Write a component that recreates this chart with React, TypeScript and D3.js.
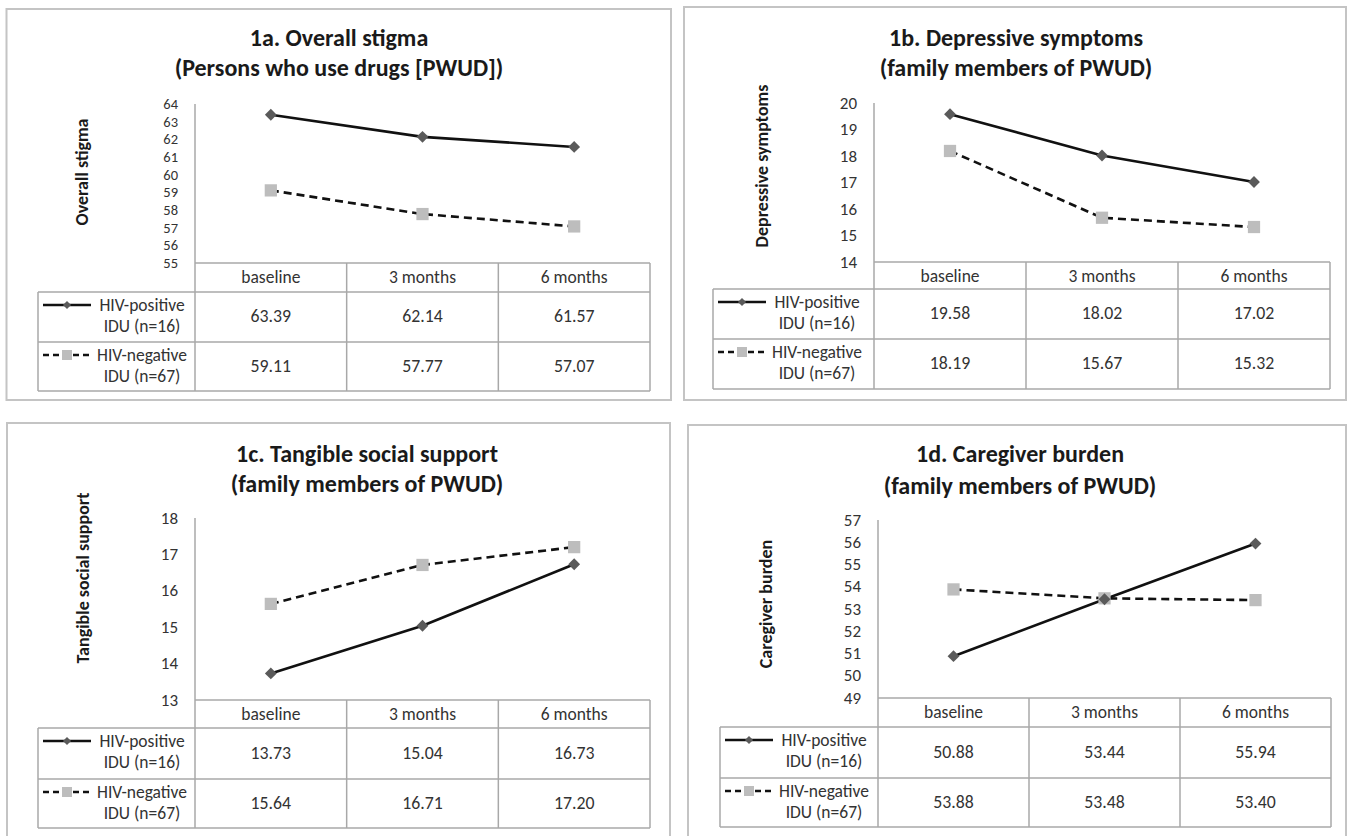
import React from 'react';
import { line, scaleBand, scaleLinear, symbol, symbolSquare, range } from 'd3';

// time points shared by all four panels
const timePoints = ['baseline', '3 months', '6 months'];

const posLegend = ['HIV-positive', 'IDU (n=16)'];
const negLegend = ['HIV-negative', 'IDU (n=67)'];

const titles = [
  ['1a. Overall stigma', '(Persons who use drugs [PWUD])'],
  ['1b. Depressive symptoms', '(family members of PWUD)'],
  ['1c. Tangible social support', '(family members of PWUD)'],
  ['1d. Caregiver burden', '(family members of PWUD)'],
];
const yLabels = ['Overall stigma', 'Depressive symptoms', 'Tangible social support', 'Caregiver burden'];

const hivPositive = [
  [63.39, 62.14, 61.57],
  [19.58, 18.02, 17.02],
  [13.73, 15.04, 16.73],
  [50.88, 53.44, 55.94],
];
const hivNegative = [
  [59.11, 57.77, 57.07],
  [18.19, 15.67, 15.32],
  [15.64, 16.71, 17.2],
  [53.88, 53.48, 53.4],
];
const yDomains = [
  [55, 64],
  [14, 20],
  [13, 18],
  [49, 57],
];

// where each panel sits on the page
const layouts = [
  { left: 6.5, top: 9, right: 671, bottom: 400, axisX: 195, tableRight: 650, legendLeft: 38, plotTop: 104, plotBottom: 263, headerBottom: 292, row1Bottom: 342, tableBottom: 391, titleX: 339, title1Y: 37, title2Y: 67, yLabelX: 82, yLabelY: 172, tickSize: 14.5 },
  { left: 684, top: 7, right: 1346, bottom: 400, axisX: 874, tableRight: 1330, legendLeft: 713, plotTop: 103, plotBottom: 262, headerBottom: 289, row1Bottom: 339, tableBottom: 389, titleX: 1016, title1Y: 37, title2Y: 67, yLabelX: 762, yLabelY: 166, tickSize: 17 },
  { left: 7, top: 423, right: 670, bottom: 870, axisX: 195, tableRight: 650, legendLeft: 38, plotTop: 518, plotBottom: 700, headerBottom: 728, row1Bottom: 779, tableBottom: 828, titleX: 367, title1Y: 453, title2Y: 483, yLabelX: 83, yLabelY: 578, tickSize: 17 },
  { left: 688, top: 425, right: 1346, bottom: 870, axisX: 878, tableRight: 1331, legendLeft: 720, plotTop: 520, plotBottom: 698, headerBottom: 727, row1Bottom: 778, tableBottom: 827, titleX: 1020, title1Y: 453, title2Y: 485, yLabelX: 766, yLabelY: 604, tickSize: 17 },
];

const font = 'Carlito, Calibri, Lato, sans-serif';
const gridColor = '#a8a8a8';
const textColor = '#333';
const diamondPath = symbol(symbolSquare, 70)()!;
const squarePath = symbol(symbolSquare, 150)()!;
const legendDiamond = symbol(symbolSquare, 34)()!;
const legendSquare = symbol(symbolSquare, 100)()!;

const Panel: React.FC<{ i: number }> = ({ i }) => {
  const L = layouts[i];
  const x = scaleBand<string>().domain(timePoints).range([L.axisX, L.tableRight]);
  const y = scaleLinear().domain(yDomains[i]).range([L.plotBottom, L.plotTop]);
  const cx = (d: string) => x(d)! + x.bandwidth() / 2;
  const path = line<number>().x((_, k) => cx(timePoints[k])).y((v) => y(v));
  const ticks = range(yDomains[i][0], yDomains[i][1] + 1);
  const rows = [
    { legend: posLegend, values: hivPositive[i], top: L.headerBottom, bottom: L.row1Bottom, dashed: false },
    { legend: negLegend, values: hivNegative[i], top: L.row1Bottom, bottom: L.tableBottom, dashed: true },
  ];
  const legendTextX = L.legendLeft + 104;

  return (
    <g>
      <rect x={L.left} y={L.top} width={L.right - L.left} height={L.bottom - L.top} fill="#fff" stroke="#c4c4c4" strokeWidth={2} />
      <text x={L.titleX} y={L.title1Y} textAnchor="middle" dominantBaseline="central" fontFamily={font} fontWeight="bold" fontSize={24} fill="#1a1a1a">{titles[i][0]}</text>
      <text x={L.titleX} y={L.title2Y} textAnchor="middle" dominantBaseline="central" fontFamily={font} fontWeight="bold" fontSize={24} fill="#1a1a1a">{titles[i][1]}</text>
      <text transform={`translate(${L.yLabelX},${L.yLabelY}) rotate(-90)`} textAnchor="middle" dominantBaseline="central" fontFamily={font} fontWeight="bold" fontSize={18} fill="#1a1a1a">{yLabels[i]}</text>

      {ticks.map((t) => (
        <text key={t} x={L.axisX - 17} y={y(t)} textAnchor="end" dominantBaseline="central" fontFamily={font} fontSize={L.tickSize} fill={textColor}>{t}</text>
      ))}

      {/* table grid */}
      <line x1={L.axisX} x2={L.axisX} y1={L.plotTop} y2={L.tableBottom} stroke={gridColor} strokeWidth={1.5} />
      <line x1={L.axisX} x2={L.tableRight} y1={L.plotBottom} y2={L.plotBottom} stroke={gridColor} strokeWidth={1.5} />
      {[L.headerBottom, L.row1Bottom, L.tableBottom].map((yy) => (
        <line key={yy} x1={L.legendLeft} x2={L.tableRight} y1={yy} y2={yy} stroke={gridColor} strokeWidth={1.5} />
      ))}
      <line x1={L.legendLeft} x2={L.legendLeft} y1={L.headerBottom} y2={L.tableBottom} stroke={gridColor} strokeWidth={1.5} />
      {timePoints.map((c) => (
        <line key={c} x1={x(c)! + x.bandwidth()} x2={x(c)! + x.bandwidth()} y1={L.plotBottom} y2={L.tableBottom} stroke={gridColor} strokeWidth={1.5} />
      ))}
      {timePoints.map((c) => (
        <text key={c} x={cx(c)} y={L.plotBottom + 14} textAnchor="middle" dominantBaseline="central" fontFamily={font} fontSize={17.5} fill={textColor}>{c}</text>
      ))}

      {rows.map((r, k) => (
        <g key={k}>
          {r.values.map((v, j) => (
            <text key={j} x={cx(timePoints[j])} y={(r.top + r.bottom) / 2 - 1} textAnchor="middle" dominantBaseline="central" fontFamily={font} fontSize={17.8} fill={textColor}>{v.toFixed(2)}</text>
          ))}
          <line x1={L.legendLeft + 5} x2={L.legendLeft + 53} y1={r.top + 13} y2={r.top + 13} stroke="#111" strokeWidth={2.5} strokeDasharray={r.dashed ? '6,4' : undefined} />
          <path d={r.dashed ? legendSquare : legendDiamond} transform={`translate(${L.legendLeft + 29},${r.top + 13}) rotate(${r.dashed ? 0 : 45})`} fill={r.dashed ? '#bdbdbd' : '#5a5a5a'} />
          <text x={legendTextX} y={r.top + 13} textAnchor="middle" dominantBaseline="central" fontFamily={font} fontSize={17.5} fill={textColor}>{r.legend[0]}</text>
          <text x={legendTextX} y={r.top + 34} textAnchor="middle" dominantBaseline="central" fontFamily={font} fontSize={17.5} fill={textColor}>{r.legend[1]}</text>
        </g>
      ))}

      {/* series */}
      <path d={path(hivNegative[i])!} fill="none" stroke="#111" strokeWidth={2.6} strokeDasharray="8,5" />
      <path d={path(hivPositive[i])!} fill="none" stroke="#111" strokeWidth={2.6} />
      {hivNegative[i].map((v, j) => (
        <path key={'n' + j} d={squarePath} transform={`translate(${cx(timePoints[j])},${y(v)})`} fill="#bdbdbd" />
      ))}
      {hivPositive[i].map((v, j) => (
        <path key={'p' + j} d={diamondPath} transform={`translate(${cx(timePoints[j])},${y(v)}) rotate(45)`} fill="#5a5a5a" />
      ))}
    </g>
  );
};

export default function App() {
  return (
    <svg width={1352} height={836} style={{ position: 'absolute', left: 0, top: 0, background: '#fff' }}>
      {layouts.map((_, i) => (
        <Panel key={i} i={i} />
      ))}
    </svg>
  );
}
